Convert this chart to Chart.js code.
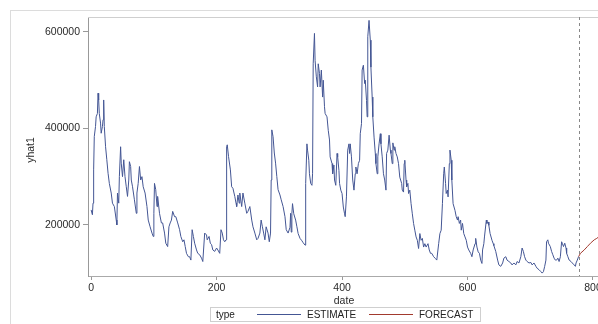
<!DOCTYPE html>
<html>
<head>
<meta charset="utf-8">
<script src="https://cdn.jsdelivr.net/npm/chart.js@4.4.1/dist/chart.umd.min.js"></script>
<style>
  html, body { margin: 0; padding: 0; background: #fff; overflow: hidden; }
  #wrap { position: relative; width: 598px; height: 324px; font-family: "Liberation Sans", Arial, sans-serif; }
  #frame { position: absolute; left: 10px; top: 10px; right: 0; bottom: 0; border-top: 1px solid #dcdcdc; border-left: 1px solid #dcdcdc; }
  .axt { position: absolute; font-size: 10.5px; color: #2a2a2a; line-height: 12px; white-space: nowrap; }
  #ytitle { left: 30px; top: 150px; transform: translate(-50%, -50%) rotate(-90deg); }
  #xtitle { left: 344px; top: 300px; transform: translate(-50%, -50%); }
  #legend { position: absolute; left: 210px; top: 307px; width: 269px; height: 13px; border: 1px solid #cfcfcf;
            font-size: 10px; color: #222; }
  #legend span { position: absolute; top: 0px; line-height: 13px; }
  #legend i { position: absolute; top: 6px; height: 1px; width: 44px; }
</style>
</head>
<body>
<div id="wrap">
  <div id="frame"></div>
  <canvas id="chartYhat" width="598" height="324"></canvas>
  <div class="axt" id="ytitle">yhat1</div>
  <div class="axt" id="xtitle">date</div>
  <div id="legend">
    <span style="left:5px">type</span>
    <i style="left:46px;background:#445694"></i>
    <span style="left:96px">ESTIMATE</span>
    <i style="left:158px;background:#A23A2E"></i>
    <span style="left:208px">FORECAST</span>
  </div>
</div>
<script>
// estimate series (date, yhat1 in thousands)
const estDates = [0,2,3,4,5,7,8,10,11,12,13,15,16,18,19,20,21,23,25,27,29,32,34,37,40,41,42,44,45,47,48,50,52,54,56,58,60,61,63,64,66,69,72,73,75,77,79,81,83,86,89,91,94,97,99,100,101,103,105,106,109,112,114,117,119,122,124,126,128,130,133,135,138,141,143,146,148,150,152,155,157,159,161,163,165,168,170,173,176,178,181,184,185,188,190,192,194,197,200,202,205,207,209,211,213,215,216,217,219,222,224,226,229,231,232,234,236,237,240,242,245,248,250,253,256,258,261,264,266,269,271,273,275,277,279,282,284,286,287,288,290,292,294,296,298,301,303,306,309,311,314,317,318,319,320,321,323,326,328,330,333,336,338,341,342,344,345,347,348,350,352,353,354,356,357,359,361,362,364,365,367,369,370,372,373,376,378,380,381,384,385,387,388,390,392,393,395,396,398,400,402,404,405,407,409,411,412,413,415,417,419,421,422,424,426,428,429,431,432,434,436,437,439,440,441,443,445,446,448,449,451,453,454,456,457,459,461,462,464,466,468,470,471,473,475,477,478,480,481,483,484,486,488,490,492,495,496,498,499,500,502,503,505,506,508,510,512,514,516,518,520,522,524,526,528,530,532,534,537,539,541,543,546,549,551,554,556,558,560,562,563,565,566,568,569,571,572,574,575,577,580,582,584,585,587,589,590,592,594,596,598,600,602,605,607,609,612,613,615,617,619,621,623,624,626,627,630,631,633,634,636,639,641,642,645,648,650,653,656,658,661,663,666,669,671,674,677,679,682,685,687,689,691,693,695,698,701,703,706,709,711,714,717,719,721,723,725,726,728,729,732,734,736,738,740,742,744,746,748,750,751,753,755,757,758,760,762,765,767,770,772,773,775,777];
const estK = [231,221,245,314,383,404,424,431,473,459,431,411,390,404,418,459,404,362,335,307,286,266,245,238,210,200,266,245,300,362,328,300,335,300,279,259,293,331,321,293,279,252,224,266,286,321,293,300,279,266,238,210,196,183,176,224,286,273,238,259,224,204,204,183,162,155,196,204,210,228,217,217,204,190,176,165,169,155,141,134,134,127,190,176,162,148,141,138,131,124,183,179,169,176,162,159,148,145,152,148,141,190,183,169,165,169,362,366,342,314,279,276,259,245,238,262,245,266,238,266,245,224,228,238,210,196,183,169,172,183,210,196,183,169,196,183,165,183,293,397,383,349,328,300,273,262,252,238,217,190,183,195,224,185,223,244,223,210,196,182,172,167,163,158,286,368,355,334,306,286,282,306,534,597,541,507,486,534,514,486,521,465,500,445,431,424,396,376,341,327,306,324,293,282,348,341,313,286,272,265,237,223,217,258,355,368,348,368,341,293,272,306,320,306,327,334,389,410,521,531,493,500,458,424,590,624,583,527,465,424,382,348,327,306,341,368,389,368,341,306,293,272,348,355,386,355,348,327,370,355,362,348,341,327,299,286,272,268,327,334,293,279,286,265,272,244,223,203,189,175,168,151,182,168,172,154,161,154,161,148,141,141,134,130,127,161,182,189,244,306,320,286,265,272,258,327,355,334,293,244,230,217,210,217,203,210,189,203,182,175,168,154,148,141,134,148,161,172,154,144,141,127,120,148,161,175,210,203,206,199,182,168,161,157,145,127,117,114,121,131,134,127,124,121,117,121,117,124,121,134,152,145,134,127,124,121,122,117,121,114,110,107,103,100,103,114,127,165,169,162,155,145,138,131,127,127,131,124,134,165,162,155,162,152,141,134,127,124,121,117,114,121,127,134];

// forecast series
const fcDates = [777,780,786,791,796,802,806,812];
const fcK = [134,141,148,155,162,169,172,178];

const xTicks = [0, 200, 400, 600, 800];
const yTicks = [200000, 400000, 600000];

const toPts = (xs, ks) => xs.map((d, i) => ({ x: d, y: ks[i] * 1000 }));

Chart.defaults.font.family = '"Liberation Sans", Arial, sans-serif';
Chart.defaults.font.size = 10.5;
Chart.defaults.color = '#2a2a2a';

// dashed line at forecast start + top wall line
const refLines = {
  id: 'refLines',
  afterDatasetsDraw(chart) {
    const { ctx, chartArea, scales } = chart;
    ctx.save();
    ctx.strokeStyle = '#cfcfcf';
    ctx.lineWidth = 1;
    ctx.beginPath();
    ctx.moveTo(chartArea.left, chartArea.top + 0.5);
    ctx.lineTo(chartArea.right, chartArea.top + 0.5);
    ctx.stroke();
    const px = Math.round(scales.x.getPixelForValue(fcDates[0])) + 0.5;
    ctx.strokeStyle = '#888';
    ctx.setLineDash([3, 3]);
    ctx.beginPath();
    ctx.moveTo(px, chartArea.top);
    ctx.lineTo(px, chartArea.bottom);
    ctx.stroke();
    ctx.restore();
  }
};

new Chart(document.getElementById('chartYhat'), {
  type: 'line',
  data: {
    datasets: [
      { label: 'ESTIMATE', data: toPts(estDates, estK), borderColor: '#445694', borderWidth: 1, pointRadius: 0, tension: 0 },
      { label: 'FORECAST', data: toPts(fcDates, fcK), borderColor: '#A23A2E', borderWidth: 1, pointRadius: 0, tension: 0 }
    ]
  },
  options: {
    responsive: false,
    animation: false,
    layout: { padding: { top: 17, right: 0, left: 0, bottom: 0 } },
    plugins: { legend: { display: false }, tooltip: { enabled: false } },
    scales: {
      x: {
        type: 'linear',
        min: -5,
        max: 808,
        afterBuildTicks: s => { s.ticks = xTicks.map(v => ({ value: v })); },
        afterFit: s => { s.height = 48; s.paddingLeft = 0; s.paddingRight = 0; },
        ticks: { maxRotation: 0, padding: 2, callback: v => String(v) },
        grid: { drawOnChartArea: false, tickLength: 4, color: '#999' },
        border: { color: '#aaa' }
      },
      y: {
        min: 94000,
        max: 631000,
        afterBuildTicks: s => { s.ticks = yTicks.map(v => ({ value: v })); },
        afterFit: s => { s.width = 88; },
        ticks: { padding: 3, callback: v => String(v) },
        grid: { drawOnChartArea: false, tickLength: 5, color: '#999' },
        border: { color: '#999' }
      }
    }
  },
  plugins: [refLines]
});
</script>
</body>
</html>
